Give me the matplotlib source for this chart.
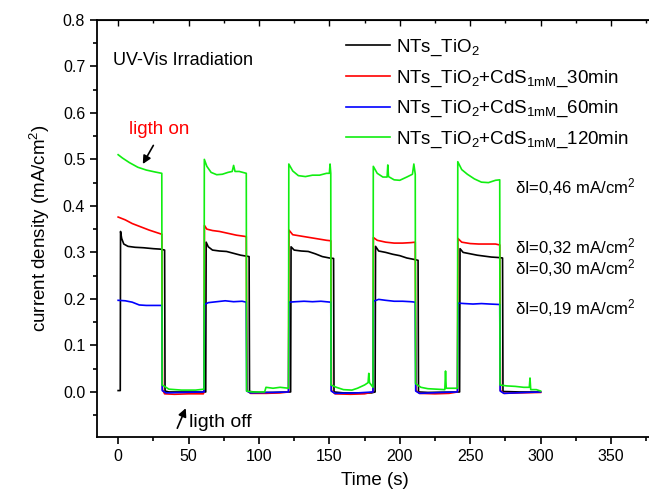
import matplotlib
matplotlib.use("Agg")
import matplotlib.pyplot as plt
from matplotlib.ticker import MultipleLocator

plt.rcParams['font.family'] = ['Liberation Sans', 'DejaVu Sans']
plt.rcParams['mathtext.fontset'] = 'custom'
plt.rcParams['mathtext.rm'] = 'Liberation Sans'
plt.rcParams['mathtext.it'] = 'Liberation Sans'

# photocurrent traces (time s, current mA/cm2)
t_tio2 = [0, 1.5, 1.7, 2.5, 4, 7, 12, 18, 25, 30, 33, 33.3, 36, 50, 62.2,
          62.5, 64, 67, 72, 77, 82, 87, 93, 93.3, 100, 110, 122.5,
          122.8, 125, 130, 135, 140, 145, 150, 153, 153.3, 160, 180, 182.5,
          182.8, 185, 190, 195, 200, 205, 210, 213, 213.3, 220, 242.5,
          242.8, 245, 250, 255, 260, 265, 270, 273, 273.3, 285, 300]
j_tio2 = [0.003, 0.003, 0.345, 0.330, 0.318, 0.313, 0.311, 0.310, 0.308, 0.307, 0.305, 0.002, 0.000, 0.000, 0.000,
          0.322, 0.312, 0.305, 0.303, 0.302, 0.298, 0.294, 0.291, 0.001, -0.001, -0.001, 0.000,
          0.312, 0.305, 0.303, 0.302, 0.297, 0.291, 0.288, 0.287, 0.000, -0.002, -0.002, 0.000,
          0.313, 0.303, 0.300, 0.296, 0.293, 0.288, 0.285, 0.283, 0.000, -0.001, 0.000,
          0.308, 0.300, 0.297, 0.294, 0.292, 0.290, 0.289, 0.288, 0.001, 0.000, 0.000]

t_30 = [0, 5, 10, 16, 22, 28, 31, 31.5, 33, 40, 50, 60.5, 61,
        61.3, 63, 67, 72, 78, 84, 91, 91.5, 94, 105, 115, 121,
        121.3, 124, 130, 136, 142, 148, 151, 151.5, 154, 165, 175, 181,
        181.3, 184, 190, 196, 202, 208, 211, 211.5, 214, 225, 235, 241,
        241.3, 244, 250, 256, 262, 268, 271, 271.5, 274, 285, 300]
j_30 = [0.376, 0.370, 0.362, 0.355, 0.348, 0.342, 0.339, 0.005, -0.004, -0.005, -0.004, -0.004, 0.000,
        0.358, 0.350, 0.347, 0.345, 0.341, 0.337, 0.334, 0.003, -0.003, -0.003, -0.002, 0.000,
        0.348, 0.338, 0.335, 0.332, 0.329, 0.326, 0.325, 0.003, -0.004, -0.005, -0.004, 0.000,
        0.332, 0.326, 0.322, 0.320, 0.320, 0.321, 0.322, 0.003, -0.003, -0.004, -0.003, 0.000,
        0.330, 0.322, 0.319, 0.318, 0.318, 0.318, 0.316, 0.003, -0.003, -0.002, -0.001]

t_60 = [0, 5, 10, 15, 20, 26, 31, 31.3, 34, 45, 60.5, 61,
        61.3, 64, 70, 76, 82, 88, 91, 91.3, 94, 110, 121,
        121.3, 126, 132, 138, 144, 151, 151.3, 154, 170, 181,
        181.3, 185, 190, 196, 202, 208, 211, 211.3, 214, 230, 241,
        241.3, 246, 252, 258, 264, 271, 271.3, 274, 290, 300]
j_60 = [0.197, 0.196, 0.193, 0.187, 0.186, 0.186, 0.186, 0.003, -0.002, -0.001, 0.000, 0.000,
        0.188, 0.192, 0.194, 0.196, 0.194, 0.195, 0.193, 0.002, -0.002, -0.001, 0.000,
        0.193, 0.194, 0.195, 0.194, 0.195, 0.193, 0.002, -0.003, -0.002, 0.000,
        0.195, 0.199, 0.197, 0.195, 0.195, 0.194, 0.193, 0.002, -0.003, -0.001, 0.000,
        0.191, 0.190, 0.189, 0.190, 0.189, 0.188, 0.002, -0.003, -0.001, 0.000]

t_120 = [0, 3, 8, 14, 20, 26, 31, 31.2, 33, 36, 45, 55, 61,
         61.2, 63, 66, 70, 74, 78, 81, 82, 83, 86, 91, 91.2, 95, 104, 105, 110, 115, 121,
         121.2, 124, 128, 133, 138, 143, 148, 150, 150.5, 151, 151.2, 155, 160, 166, 170, 175, 177.5, 178, 178.5, 181,
         181.2, 184, 188, 191, 191.5, 192, 196, 200, 205, 209, 210, 211, 211.2, 215, 220, 226, 232, 232.5, 233, 241,
         241.2, 244, 248, 253, 258, 263, 268, 271, 271.2, 276, 282, 288, 292, 292.5, 293, 297, 300]
j_120 = [0.510, 0.503, 0.493, 0.483, 0.477, 0.473, 0.470, 0.015, 0.012, 0.006, 0.004, 0.004, 0.006,
         0.500, 0.485, 0.472, 0.467, 0.468, 0.472, 0.474, 0.487, 0.474, 0.474, 0.470, 0.002, 0.000, 0.000, 0.010, 0.008, 0.010, 0.008,
         0.490, 0.475, 0.465, 0.463, 0.466, 0.466, 0.470, 0.470, 0.490, 0.470, 0.015, 0.010, 0.005, 0.004, 0.008, 0.015, 0.020, 0.040, 0.020, 0.010,
         0.485, 0.470, 0.462, 0.462, 0.488, 0.463, 0.456, 0.455, 0.462, 0.468, 0.490, 0.468, 0.018, 0.010, 0.007, 0.006, 0.005, 0.045, 0.008, 0.008,
         0.495, 0.478, 0.468, 0.458, 0.451, 0.450, 0.455, 0.456, 0.015, 0.013, 0.012, 0.010, 0.010, 0.030, 0.005, 0.005, 0.002]

labels = ['NTs_TiO$_2$',
          'NTs_TiO$_2$+CdS$_{\\mathrm{1mM}}$_30min',
          'NTs_TiO$_2$+CdS$_{\\mathrm{1mM}}$_60min',
          'NTs_TiO$_2$+CdS$_{\\mathrm{1mM}}$_120min']
colors = ['black', '#ff0000', '#0000ff', '#11ee11']

delta_labels = ['δI=0,46 mA/cm$^2$', 'δI=0,32 mA/cm$^2$',
                'δI=0,30 mA/cm$^2$', 'δI=0,19 mA/cm$^2$']
delta_y = [0.44, 0.311, 0.266, 0.180]

fig = plt.figure(figsize=(6.49, 4.95), dpi=100)
ax = fig.add_axes([0.1495, 0.117, 0.857, 0.843])

series = [(t_tio2, j_tio2), (t_30, j_30), (t_60, j_60), (t_120, j_120)]
for (t, j), c, lab in zip(series, colors, labels):
    ax.plot(t, j, color=c, lw=1.2, label=lab)

ax.set_xlim(-15, 380)
ax.set_ylim(-0.097, 0.8)
ax.xaxis.set_major_locator(MultipleLocator(50))
ax.xaxis.set_minor_locator(MultipleLocator(25))
ax.yaxis.set_major_locator(MultipleLocator(0.1))
ax.yaxis.set_minor_locator(MultipleLocator(0.05))
ax.yaxis.set_major_formatter(plt.FormatStrFormatter('%.1f'))
ax.tick_params(which='both', direction='out', top=False, right=False, labelsize=11.5, width=1.2)
ax.tick_params(which='major', length=5)
ax.tick_params(which='minor', length=3)
for s in ax.spines.values():
    s.set_linewidth(1.3)

# inward mirror ticks on top
top = ax.secondary_xaxis('top')
top.xaxis.set_major_locator(MultipleLocator(50))
top.xaxis.set_minor_locator(MultipleLocator(25))
top.tick_params(which='both', direction='in', labeltop=False, width=1.0)
top.tick_params(which='major', length=4)
top.tick_params(which='minor', length=2)

ax.set_xlabel('Time (s)', fontsize=13.5, labelpad=6)
ax.set_ylabel('current density (mA/cm$^2$)', fontsize=13.5, labelpad=8)

ax.legend(loc='upper left', bbox_to_anchor=(0.435, 0.975), frameon=False,
          fontsize=13.5, handlelength=2.3, handletextpad=0.35, labelspacing=0.55,
          borderaxespad=0.0)

ax.text(46, 0.712, 'UV-Vis Irradiation', fontsize=13, ha='center', va='center')
ax.text(8, 0.565, 'ligth on', fontsize=13.5, color='#ff0000', va='center')
ax.annotate('', xy=(17.5, 0.49), xytext=(25, 0.53),
            arrowprops=dict(arrowstyle='-|>', color='black', lw=1.2, mutation_scale=12,
                            shrinkA=0, shrinkB=0))
ax.text(50, -0.065, 'ligth off', fontsize=14, va='center')
ax.annotate('', xy=(48, -0.035), xytext=(42, -0.078),
            arrowprops=dict(arrowstyle='-|>', color='black', lw=1.2, mutation_scale=12,
                            shrinkA=0, shrinkB=0))

for lab, y in zip(delta_labels, delta_y):
    ax.text(282, y, lab, fontsize=12, va='center')

fig.savefig('out.png', dpi=100)
